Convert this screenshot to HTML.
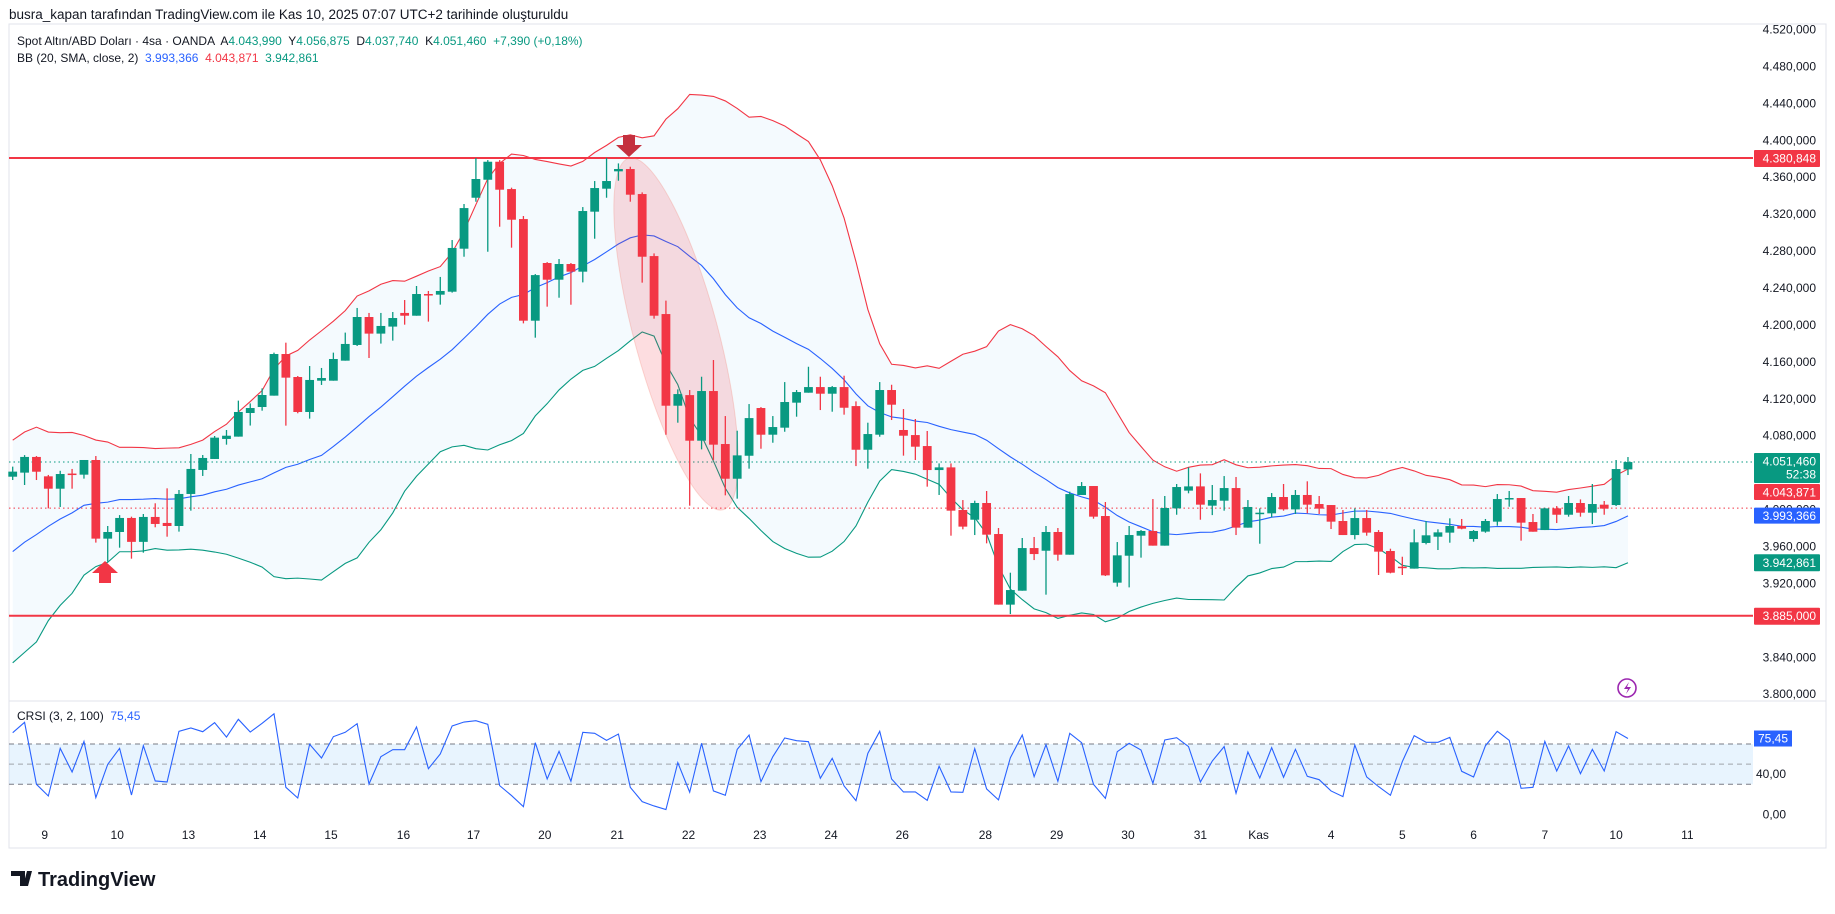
<!DOCTYPE html>
<html><head><meta charset="utf-8">
<style>
html,body{margin:0;padding:0;background:#fff;}
body{width:1835px;height:909px;overflow:hidden;font-family:"Liberation Sans",sans-serif;}
svg text{font-family:"Liberation Sans",sans-serif;white-space:pre;}
</style></head>
<body>
<svg id="chart" width="1835" height="909" viewBox="0 0 1835 909" xmlns="http://www.w3.org/2000/svg">
  <text x="9" y="19" font-size="13.5" fill="#131722">busra_kapan tarafından TradingView.com ile Kas 10, 2025 07:07 UTC+2 tarihinde oluşturuldu</text>
  <rect x="9" y="24" width="1817" height="824" fill="#fff" stroke="#e0e3eb" stroke-width="1"/>
  <g id="bb"></g>
  <g id="hlines"></g>
  <ellipse cx="676" cy="334" rx="182" ry="42" transform="rotate(75 676 334)" fill="rgba(242,54,69,0.17)" stroke="rgba(242,120,100,0.25)" stroke-width="1"/>
  <g id="candles"></g>
  <g id="rsi"></g>
  <g id="axis"></g>
  <g id="taxis"></g>
  <path d="M623,135 h12 v10 h7 l-13,12 l-13,-12 h7 z" fill="#c4313f"/>
  <path d="M99,583 h12 v-10 h7 l-13,-12 l-13,12 h7 z" fill="#f23645"/>
  <g>
    <circle cx="1627" cy="688" r="9" fill="none" stroke="#9c27b0" stroke-width="1.6"/>
    <path d="M1629,682 l-5,7 h4 l-2,5 l5,-7 h-4 z" fill="#9c27b0"/>
  </g>
  <text x="17" y="45" font-size="12" fill="#131722">Spot Altın/ABD Doları · 4sa · OANDA  A<tspan fill="#089981">4.043,990</tspan>  Y<tspan fill="#089981">4.056,875</tspan>  D<tspan fill="#089981">4.037,740</tspan>  K<tspan fill="#089981">4.051,460</tspan>  <tspan fill="#089981">+7,390 (+0,18%)</tspan></text>
  <text x="17" y="62" font-size="12" fill="#131722">BB (20, SMA, close, 2)  <tspan fill="#2962ff">3.993,366</tspan>  <tspan fill="#f23645">4.043,871</tspan>  <tspan fill="#089981">3.942,861</tspan></text>
  <text x="17" y="720" font-size="12" fill="#131722">CRSI (3, 2, 100)  <tspan fill="#2962ff">75,45</tspan></text>
  <g>
    <path d="M11,871 h14 v15 h-5 v-10 h-9 z M27,871 h5 l-4,15 h-5 z" fill="#131722"/>
    <text x="38" y="886" font-size="20" font-weight="bold" fill="#131722">TradingView</text>
  </g>
</svg>
<script>
const opens=[4035.6,4040,4057,4036,4022.6,4039,4037.8,4053.7,3968.5,3975.7,3990.9,3965,3992,3985.5,3982.2,4016.9,4042.9,4054.8,4076.5,4079,4104.6,4111.1,4123.4,4168.5,4143.6,4105.7,4139.6,4139.6,4161.3,4178.3,4208.6,4190.6,4198.2,4213,4210,4233.5,4232.8,4236,4282.6,4337.8,4357.3,4376.8,4347.2,4314.7,4204.6,4267.1,4249,4266,4257.7,4322.7,4347.6,4366.4,4368.9,4341.8,4274.6,4211.8,4112.5,4124,4074.6,4128.4,4071,4033.4,4058.3,4110,4081.1,4088.7,4115.8,4126.6,4132.7,4125.5,4132.7,4112.1,4064.8,4081.1,4129.5,4086.2,4080.7,4068.8,4042.8,4045.7,3999.5,3989,4007.1,3973.5,3897,3912.1,3958.3,3955.4,3975.7,3951.1,4015.8,4025.5,3993,3920.8,3950,3971.7,3976.8,3960.9,4001.3,4020.5,4025.1,4004.2,4009.6,4023.3,3980.4,3995.6,3995.9,4013.6,4000.2,4015.8,4006,4004.9,3987.6,3972.4,3990.8,3975.7,3955.1,3938.1,3936,3963.8,3970.6,3975,3982.2,3968.1,3976.1,3986.9,4011,4012.5,3986.5,3977.8,4001.3,3994.4,4007.1,3996.6,4005.3,4004.9,4043.5];
const highs=[4046.5,4059,4058,4037.5,4042,4044,4053.7,4058,3982.2,3994,3992.3,3995.2,4006.8,4023,4021.2,4060.2,4059.1,4079.7,4086.2,4118,4115,4131.3,4170,4180.8,4144.7,4155.5,4153.4,4170,4191.7,4218.4,4213,4213,4214,4227,4242.2,4236.8,4252,4292,4331,4380.8,4378.6,4378.6,4348.7,4318,4255.1,4268.1,4271.4,4267.1,4327.7,4355.9,4381,4375,4371.4,4343.6,4277.5,4226.3,4130.2,4129.5,4143.9,4162,4101.3,4085.4,4114.3,4111,4101.3,4138.1,4129.5,4154.7,4143.9,4133.8,4145,4117.2,4094.1,4138.1,4135.2,4108.9,4098.1,4085.1,4050,4050,4010.3,4009.6,4020.1,3980,3931.6,3969.2,3970.3,3982.2,3980,4019.4,4029.8,4025.5,4008.2,3964.8,3982.2,3977.8,4011.4,4014.7,4027.7,4045.7,4039.2,4026.6,4036.3,4035.3,4010.3,4001.3,4017.9,4027.7,4021.2,4030.6,4014.7,4004.9,3999.5,4001.3,3999.5,3977.8,3957.6,3948.9,3978.6,3987.6,3978.6,3990.5,3989.8,3977.8,3989.8,4016.8,4020.1,4012.5,3995.2,4002,4003.8,4014.7,4011,4027.7,4009.3,4053.7,4056.9];
const lows=[4032,4026.6,4032,4001.3,4002.8,4022.6,4033.5,3964.2,3943.6,3958.7,3946.8,3953.3,3980.8,3970.6,3976.1,3998.8,4036.4,4054.8,4070.3,4079,4091,4107.1,4123.4,4090.9,4104.3,4098.5,4135,4139.6,4161.3,4177.2,4164.2,4179.8,4183,4200.3,4210,4203.6,4222,4235,4273.9,4333.5,4279.3,4306.4,4283.7,4201.7,4186.2,4219.8,4229.5,4221.9,4246.1,4293.4,4337.8,4356.2,4333.5,4245.8,4206.8,4081.1,4094.1,4004.2,4065.2,4053.6,4015.4,4011.8,4044.3,4065.9,4072.4,4084.3,4100.6,4126.6,4107.8,4106,4102.8,4047.1,4044.3,4078.9,4097,4058.4,4053.7,4024.8,4015.8,3971.7,3978.6,3972.4,3963.4,3897,3886.8,3912.1,3945.3,3907.8,3944.6,3951.1,4015.8,3990.1,3928,3916.5,3915.7,3947.9,3960.9,3960.9,3994.4,4017.6,3989,3994,3998.8,3972.4,3980.4,3963,3991.6,3998.8,3995.2,3995.9,3995.2,3978.9,3972.4,3967.7,3971.7,3929.1,3930.9,3929.1,3936,3962.3,3956.2,3964.1,3978.6,3965.2,3974.9,3982.5,4003.1,3966.3,3976,3977.8,3985.4,3992.3,3992.3,3984.3,3994.4,4003.8,4037.4];
const closes=[4041.1,4057,4041,4022.6,4038.5,4037.8,4053.7,3968.5,3975.7,3990.9,3965,3992,3984.4,3982.2,4016.9,4044,4055.9,4077.9,4080,4105.7,4110,4124.1,4168.5,4142.9,4105.7,4140.4,4142.5,4163.1,4179.4,4208.6,4190.6,4198.9,4207.5,4210,4233.5,4232.8,4236.8,4283.4,4326.6,4358.1,4376.8,4346.5,4314,4204.6,4254,4249,4266,4257.7,4323.4,4348.3,4355.9,4368.9,4341.1,4273.9,4210,4112.5,4125.1,4074.6,4128.4,4070.3,4033.4,4058.7,4099.1,4081.1,4089.4,4116.5,4127.3,4132.7,4125.5,4132.7,4110.3,4064.8,4081.8,4129.5,4113.6,4080,4068.1,4042.8,4045.7,3998.8,3981.5,4007.1,3972.8,3897,3912.8,3958.3,3951.8,3975.7,3951.1,4016.8,4025.5,3992.3,3928.7,3950.4,3972.4,3976.8,3960.9,4001.7,4024.4,4025.1,4005.3,4010.3,4023.3,3980.4,4002.8,3996.6,4013.6,4000.2,4015.8,4005.3,4001,3986.9,3972.4,3990.8,3975,3954.4,3931.6,3937,3964.5,3972.1,3975.3,3982.2,3979.3,3976.8,3987.6,4011.4,4012.5,3985.8,3976,4001.3,3994.4,4007.1,3996.6,4006,4001,4043.9,4051.46];
const priorCloses=[3855,3875,3845,3880,3905,3890,3925,3950,3935,3965,3985,3970,3995,4010,4000,4020,4005,4025,4015];
const crsi=[81.2,91.5,30,18.4,65.7,42.2,72.6,16.8,49.8,65.7,19.4,68.3,33.3,32.3,82.6,85.9,82.2,91.2,76.9,94.5,81.9,90.5,100,27,16.4,69.7,56.1,77.3,81.6,90.2,30.3,57.4,64.4,64.4,86.9,45.5,60.1,87.9,91.8,93.1,89.5,28.7,18.8,7.8,71.3,35.3,62.7,33,81.6,80.6,73.6,79.9,27,12.8,8.5,4.9,51.5,22.1,70.7,23.4,19.1,64.7,78.9,32.6,57.4,76,73.3,72.3,36,55.8,28.3,13.8,60.7,82.6,35.3,22.4,22.4,14.1,47.9,22.4,22.1,65.4,25.4,14.5,56.4,78.9,37.6,69.3,33,80.6,71.3,30,16.1,62.4,70.7,64,31,74,76.3,67.4,32.3,53.1,67.4,21.1,62.1,36.3,66.4,37,64.7,37.9,34.6,23.4,17.8,69,37.3,27.7,19.1,52.5,78.3,71.7,71.7,76.6,42.9,37.3,68.3,82.6,73.6,26,27,72.6,43.2,68,40.6,64.7,43.2,82.2,75.45];
const priceTicks=[4520,4480,4440,4400,4360,4320,4280,4240,4200,4160,4120,4080,4000,3960,3920,3840,3800];
const timeLabels=["9","10","13","14","15","16","17","20","21","22","23","24","26","28","29","30","31","Kas","4","5","6","7","10","11"];
const timeIdx=[2.7,8.8,14.8,20.8,26.8,32.9,38.8,44.8,50.9,56.9,62.9,68.9,74.9,81.9,87.9,93.9,100,104.9,111,117,123,129,135,141];
const resistance=4380.848, support=3885.0, lastPrice=4051.46, refLine=4001.5;
const bbUpperLast=4043.871, bbMidLast=3993.366, bbLowerLast=3942.861;

const NS="http://www.w3.org/2000/svg";
const X0=12.7, STEP=11.877, PLOT_L=9, PLOT_R=1753;
const xC=i=>X0+i*STEP;
const yP=p=>158+(resistance-p)*0.9231;
const yR=v=>784.3-(v-30)*1.0075;
function el(tag,attrs,parent){const e=document.createElementNS(NS,tag);for(const k in attrs)e.setAttribute(k,attrs[k]);parent.appendChild(e);return e;}
const fmt=(v,d)=>{let s=v.toFixed(d).split('.');s[0]=s[0].replace(/\B(?=(\d{3})+(?!\d))/g,'.');return s.join(',');};

const all=priorCloses.concat(closes);
const up=[],mid=[],lo=[];
for(let i=0;i<closes.length;i++){const w=all.slice(i,i+20);const m=w.reduce((a,b)=>a+b,0)/20;const sd=Math.sqrt(w.reduce((a,b)=>a+(b-m)*(b-m),0)/20);mid.push(m);up.push(m+2*sd);lo.push(m-2*sd);}
const bb=document.getElementById('bb');
const ptsU=up.map((v,i)=>xC(i)+','+yP(v)), ptsL=lo.map((v,i)=>xC(i)+','+yP(v));
let fill=el('polygon',{points:ptsU.concat(ptsL.slice().reverse()).join(' '),fill:'rgba(33,150,243,0.05)'},bb);


[[up,'#f23645','bb-upper'],[mid,'#2962ff','bb-basis'],[lo,'#089981','bb-lower']].forEach(([arr,c,n])=>{
  const l=el('polyline',{points:arr.map((v,i)=>xC(i)+','+yP(v)).join(' '),fill:'none',stroke:c,'stroke-width':1.1},bb);
  
  
});

const hl=document.getElementById('hlines');
[[resistance,'resistance-line'],[support,'support-line']].forEach(([p,n])=>{
  const l=el('line',{x1:PLOT_L,x2:PLOT_R,y1:yP(p),y2:yP(p),stroke:'#f23645','stroke-width':2},hl);
  
  
});
let dl=el('line',{x1:PLOT_L,x2:PLOT_R,y1:yP(lastPrice),y2:yP(lastPrice),stroke:'#089981','stroke-width':1,'stroke-dasharray':'1.5 3'},hl);


let rl=el('line',{x1:PLOT_L,x2:PLOT_R,y1:yP(refLine),y2:yP(refLine),stroke:'#f23645','stroke-width':1,'stroke-dasharray':'1.5 3'},hl);



const cg=document.getElementById('candles');
for(let i=0;i<closes.length;i++){
  const c=closes[i]>=opens[i]?'#089981':'#f23645';
  const g=el('g',{},cg);
  
  
  el('line',{x1:xC(i),x2:xC(i),y1:yP(highs[i]),y2:yP(lows[i]),stroke:c,'stroke-width':1.3},g);
  const t=yP(Math.max(opens[i],closes[i])),b=yP(Math.min(opens[i],closes[i]));
  el('rect',{x:xC(i)-4.4,y:t,width:8.8,height:Math.max(1.5,b-t),fill:c},g);
}

const ax=document.getElementById('axis');
priceTicks.forEach(p=>{
  const t=el('text',{x:1816,y:yP(p)+4,'font-size':12,'text-anchor':'end',fill:'#131722'},ax);
  t.textContent=fmt(p,3);
  
  
});
function badge(y,h,color,lines,name){
  const g=el('g',{},ax);
  
  
  el('rect',{x:1754,y:y,width:66,height:h,rx:1,fill:color},g);
  lines.forEach((s,k)=>{const t=el('text',{x:1816,y:y+12.5+k*13,'font-size':12,'text-anchor':'end',fill:'#fff'},g);t.textContent=s;});
}
badge(yP(resistance)-8,17,'#f23645',[fmt(resistance,3)],'resistance-price-label');
badge(yP(support)-8,17,'#f23645',[fmt(support,3)],'support-price-label');
badge(yP(lastPrice)-9,30,'#089981',[fmt(lastPrice,3),'52:38'],'last-price-label');
badge(yP(lastPrice)+22,16,'#f23645',[fmt(bbUpperLast,3)],'bb-upper-label');
badge(yP(bbMidLast)-8,16,'#2962ff',[fmt(bbMidLast,3)],'bb-basis-label');
badge(yP(bbLowerLast)-8,17,'#089981',[fmt(bbLowerLast,3)],'bb-lower-label');

const rp=document.getElementById('rsi');
el('line',{x1:9,x2:1826,y1:701,y2:701,stroke:'#e0e3eb','stroke-width':1},rp);
el('rect',{x:PLOT_L,y:yR(70),width:PLOT_R-PLOT_L,height:yR(30)-yR(70),fill:'rgba(33,150,243,0.1)'},rp);
[[70,'#787b86'],[50,'#a0a3ab'],[30,'#787b86']].forEach(([v,c])=>{
  const l=el('line',{x1:PLOT_L,x2:PLOT_R,y1:yR(v),y2:yR(v),stroke:c,'stroke-width':1,'stroke-dasharray':'5 4'},rp);
  
  
});
const rl2=el('polyline',{points:crsi.map((v,i)=>xC(i)+','+yR(v)).join(' '),fill:'none',stroke:'#2962ff','stroke-width':1.1},rp);


[[40,'40,00'],[0,'0,00']].forEach(([v,s])=>{
  const t=el('text',{x:1786,y:yR(v)+4,'font-size':12,'text-anchor':'end',fill:'#131722'},rp);
  t.textContent=s;
  
  
});
const rb=el('rect',{x:1754,y:yR(crsi[crsi.length-1])-8,width:38,height:16,fill:'#2962ff'},rp);


const rt=el('text',{x:1788,y:yR(crsi[crsi.length-1])+4,'font-size':12,'text-anchor':'end',fill:'#fff'},rp);
rt.textContent=fmt(crsi[crsi.length-1],2);

const ta=document.getElementById('taxis');
el('line',{x1:9,x2:1826,y1:848,y2:848,stroke:'#e0e3eb','stroke-width':1},ta);
timeLabels.forEach((s,k)=>{
  const t=el('text',{x:xC(timeIdx[k]),y:839,'font-size':12,'text-anchor':'middle',fill:'#131722'},ta);
  t.textContent=s;
  
  
});
</script>
</body></html>
